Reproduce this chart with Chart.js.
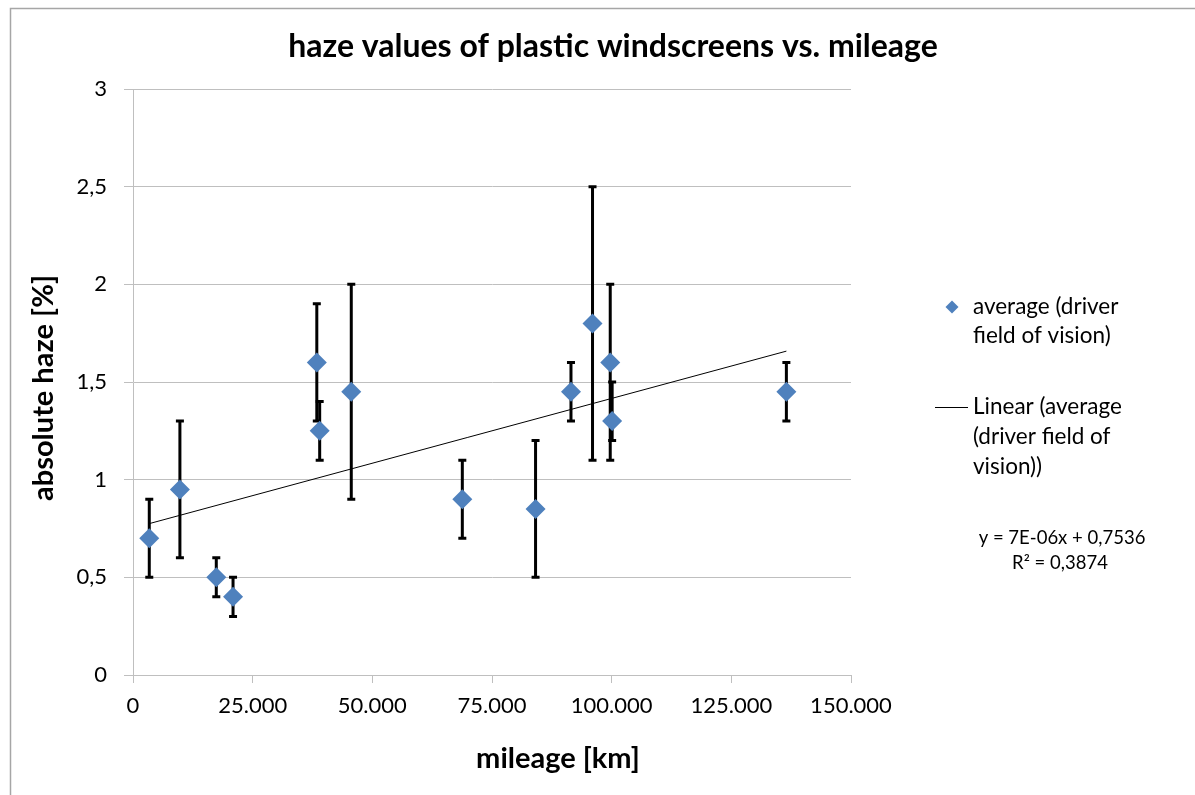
<!DOCTYPE html>
<html>
<head>
<meta charset="utf-8">
<script src="https://cdn.jsdelivr.net/npm/chart.js@4.4.1/dist/chart.umd.min.js"></script>
<style>
  html, body { margin: 0; padding: 0; background: #ffffff; }
  #wrap { position: relative; width: 1195px; height: 795px; }
  canvas { display: block; }
</style>
</head>
<body>
<div id="wrap"><canvas id="c" width="1195" height="795"></canvas></div>
<script>
// ---- data ----
const mileage   = [3400, 9800, 17400, 20900, 38400, 39000, 45600, 68800, 84100, 91500, 96000, 99700, 100100, 136500];
const haze      = [0.70, 0.95, 0.50, 0.40, 1.60, 1.25, 1.45, 0.90, 0.85, 1.45, 1.80, 1.60, 1.30, 1.45];
const hazeLow   = [0.50, 0.60, 0.40, 0.30, 1.30, 1.10, 0.90, 0.70, 0.50, 1.30, 1.10, 1.10, 1.20, 1.30];
const hazeHigh  = [0.90, 1.30, 0.60, 0.50, 1.90, 1.40, 2.00, 1.10, 1.20, 1.60, 2.50, 2.00, 1.50, 1.60];
const trendX    = [3400, 136500];
const trendY    = [0.775, 1.658];
const xTickValues = [0, 25000, 50000, 75000, 100000, 125000, 150000];
const yTickValues = [0, 0.5, 1, 1.5, 2, 2.5, 3];
const chartTitle = 'haze values of plastic windscreens vs. mileage';
const xTitle = 'mileage [km]';
const yTitle = 'absolute haze [%]';
const legendSeries = ['average (driver', 'field of vision)'];
const legendTrend = ['Linear (average', '(driver field of', 'vision))'];
const equationLines = ['y = 7E-06x + 0,7536', 'R\u00B2 = 0,3874'];

const FONT = 'Lato, "Open Sans", sans-serif';
const BLUE = '#4f81bd';
const GRID = '#bfbfbf';

function fmtThousands(v) {
  return String(v).replace(/\B(?=(\d{3})+(?!\d))/g, '.');
}

const scatterPoints = mileage.map((x, i) => ({ x: x, y: haze[i] }));
const trendPoints = trendX.map((x, i) => ({ x: x, y: trendY[i] }));

const framePlugin = {
  id: 'frame',
  beforeDraw(chart) {
    const ctx = chart.ctx;
    ctx.save();
    ctx.fillStyle = '#ffffff';
    ctx.fillRect(0, 0, chart.width, chart.height);
    ctx.strokeStyle = '#a6a6a6';
    ctx.lineWidth = 1.5;
    ctx.beginPath();
    ctx.moveTo(10.5, chart.height);
    ctx.lineTo(10.5, 8.5);
    ctx.lineTo(chart.width, 8.5);
    ctx.stroke();
    ctx.restore();
  }
};

const errorBarPlugin = {
  id: 'errorBars',
  beforeDatasetsDraw(chart) {
    const ctx = chart.ctx;
    const xs = chart.scales.x, ys = chart.scales.y;
    ctx.save();
    ctx.strokeStyle = '#000000';
    ctx.lineWidth = 3;
    ctx.lineCap = 'butt';
    for (let i = 0; i < mileage.length; i++) {
      const px = xs.getPixelForValue(mileage[i]);
      const pLo = ys.getPixelForValue(hazeLow[i]);
      const pHi = ys.getPixelForValue(hazeHigh[i]);
      ctx.beginPath();
      ctx.moveTo(px, pLo);
      ctx.lineTo(px, pHi);
      ctx.moveTo(px - 4, pLo);
      ctx.lineTo(px + 4, pLo);
      ctx.moveTo(px - 4, pHi);
      ctx.lineTo(px + 4, pHi);
      ctx.stroke();
    }
    ctx.restore();
  }
};

const textPlugin = {
  id: 'texts',
  afterDraw(chart) {
    const ctx = chart.ctx;
    ctx.save();
    ctx.fillStyle = '#000000';
    // main title
    ctx.font = 'bold 32px ' + FONT;
    ctx.textAlign = 'center';
    ctx.textBaseline = 'alphabetic';
    ctx.fillText(chartTitle, 613, 57);
    // x axis title
    ctx.font = 'bold 29px ' + FONT;
    ctx.fillText(xTitle, 558, 768);
    // y axis title
    ctx.save();
    ctx.translate(53, 388);
    ctx.rotate(-Math.PI / 2);
    ctx.fillText(yTitle, 0, 0);
    ctx.restore();

    // legend
    ctx.font = '22.5px ' + FONT;
    ctx.textAlign = 'left';
    ctx.textBaseline = 'middle';
    // diamond marker
    ctx.fillStyle = BLUE;
    ctx.beginPath();
    ctx.moveTo(952, 300.5);
    ctx.lineTo(958.5, 307);
    ctx.lineTo(952, 313.5);
    ctx.lineTo(945.5, 307);
    ctx.closePath();
    ctx.fill();
    ctx.fillStyle = '#000000';
    legendSeries.forEach((t, i) => ctx.fillText(t, 973, 307 + i * 29));
    // trend line sample
    ctx.strokeStyle = '#000000';
    ctx.lineWidth = 1;
    ctx.beginPath();
    ctx.moveTo(935, 407.5);
    ctx.lineTo(968, 407.5);
    ctx.stroke();
    legendTrend.forEach((t, i) => ctx.fillText(t, 973, 407 + i * 30));
    // equation
    ctx.font = '18.5px ' + FONT;
    ctx.textAlign = 'center';
    ctx.fillText(equationLines[0], 1062, 538);
    ctx.fillText(equationLines[1], 1060, 563);
    ctx.restore();
  }
};

new Chart(document.getElementById('c'), {
  type: 'scatter',
  data: {
    datasets: [
      {
        label: 'average (driver field of vision)',
        data: scatterPoints,
        pointStyle: 'rectRot',
        pointRadius: 10,
        pointHoverRadius: 10,
        backgroundColor: BLUE,
        borderColor: BLUE,
        borderWidth: 0,
        showLine: false
      },
      {
        label: 'Linear (average (driver field of vision))',
        data: trendPoints,
        showLine: true,
        pointRadius: 0,
        borderColor: '#000000',
        borderWidth: 1,
        fill: false
      }
    ]
  },
  options: {
    responsive: false,
    animation: false,
    events: [],
    layout: { padding: { left: 0, right: 344, top: 89, bottom: 0 } },
    plugins: {
      legend: { display: false },
      title: { display: false },
      tooltip: { enabled: false }
    },
    scales: {
      x: {
        type: 'linear',
        min: 0,
        max: 150000,
        afterBuildTicks(scale) { scale.ticks = xTickValues.map(v => ({ value: v })); },
        afterFit(scale) { scale.height = 120; },
        ticks: {
          padding: 10,
          color: '#000000',
          font: { family: FONT, size: 22 },
          maxRotation: 0,
          callback: v => fmtThousands(v)
        },
        grid: {
          drawOnChartArea: false,
          drawTicks: true,
          tickLength: 8,
          color: GRID,
          lineWidth: 1
        },
        border: { display: true, color: GRID, width: 1 }
      },
      y: {
        type: 'linear',
        min: 0,
        max: 3,
        afterBuildTicks(scale) { scale.ticks = yTickValues.map(v => ({ value: v })); },
        afterFit(scale) { scale.width = 133; },
        ticks: {
          padding: 17,
          color: '#000000',
          font: { family: FONT, size: 22 },
          callback: v => String(v).replace('.', ',')
        },
        grid: {
          drawOnChartArea: true,
          drawTicks: true,
          tickLength: 9,
          color: GRID,
          lineWidth: 1
        },
        border: { display: true, color: GRID, width: 1 }
      }
    }
  },
  plugins: [framePlugin, errorBarPlugin, textPlugin]
});
</script>
</body>
</html>
